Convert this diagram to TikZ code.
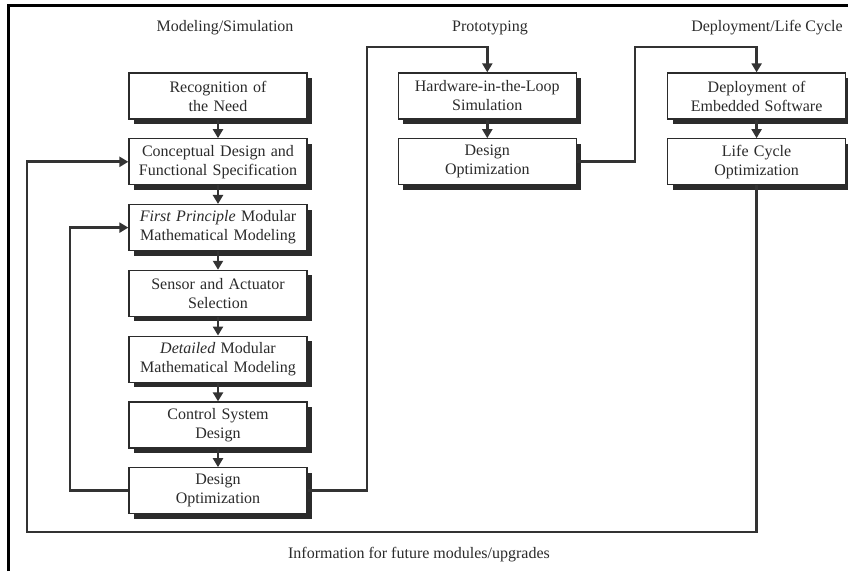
\documentclass[tikz,border=0pt]{standalone}
\usepackage{fontspec}
\setmainfont{Liberation Serif}
\usepackage{tikz}
\usetikzlibrary{arrows.meta,positioning,shadows}
\definecolor{ink}{HTML}{2B2B2B}
\definecolor{wire}{HTML}{333333}

\begin{document}
\begin{tikzpicture}[x=1pt, y=-1pt, node distance=18.5pt and 90pt, every node/.style={font=\fontsize{16}{19}\selectfont, text=ink}, stage/.style={draw=ink, line width=1.3pt, fill=white, minimum width=178pt, minimum height=46pt, text width=166pt, align=center, inner sep=4pt, drop shadow={shadow xshift=5pt, shadow yshift=-5pt, fill=ink, opacity=1}}, head/.style={align=center}, arr/.style={-{Triangle[length=9pt,width=10pt]}, line width=2.8pt, draw=wire}]
\useasboundingbox (0,0) rectangle (848,571);
\draw[line width=3pt] (8,571) -- (8,5) -- (848,5);
\node[head] (hmod) at (225,28) {Modeling/Simulation};
\node[head] (hproto) at (490,28) {Prototyping};
\node[head] (hdeploy) at (767,28) {Deployment/Life Cycle};
\node[stage] (need) at (218,96) {Recognition of\\the Need};
\node[stage,below=of need] (concept) {Conceptual Design and\\Functional Specification};
\node[stage,below=of concept] (fpmodel) {\textit{First Principle} Modular\\Mathematical Modeling};
\node[stage,below=of fpmodel] (sensor) {Sensor and Actuator\\Selection};
\node[stage,below=of sensor] (detmodel) {\textit{Detailed} Modular\\Mathematical Modeling};
\node[stage,below=of detmodel] (control) {Control System\\Design};
\node[stage,below=of control] (optsim) {Design\\Optimization};
\node[stage,right=of need] (hil) {Hardware-in-the-Loop\\Simulation};
\node[stage,below=of hil] (optproto) {Design\\Optimization};
\node[stage,right=of hil] (embed) {Deployment of\\Embedded Software};
\node[stage,below=of embed] (lifeopt) {Life Cycle\\Optimization};
\node[head] (info) at (419,555) {Information for future modules/upgrades};
\coordinate (up1) at (367,47);
\coordinate (up2) at (635,47);
\coordinate (back) at (27,532);
\coordinate (loop) at (70,0);
\draw[arr] (need) -- (concept);
\draw[arr] (concept) -- (fpmodel);
\draw[arr] (fpmodel) -- (sensor);
\draw[arr] (sensor) -- (detmodel);
\draw[arr] (detmodel) -- (control);
\draw[arr] (control) -- (optsim);
\draw[arr] (hil) -- (optproto);
\draw[arr] (embed) -- (lifeopt);
\draw[arr] (optsim.east) -| (up1) -| (hil.north);
\draw[arr] (optproto.east) -| (up2) -| (embed.north);
\draw[arr] (optsim.west) -| (loop |- fpmodel.west) -- (fpmodel.west);
\draw[arr] (lifeopt.south) |- (back) |- (concept.west);
\end{tikzpicture}
\end{document}
